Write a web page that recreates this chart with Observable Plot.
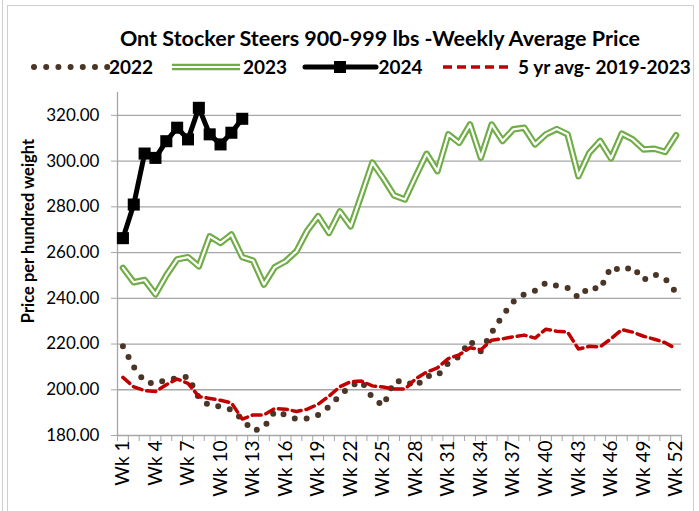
<!DOCTYPE html>
<html><head><meta charset="utf-8">
<script src="https://cdn.jsdelivr.net/npm/d3@7"></script>
<script src="https://cdn.jsdelivr.net/npm/@observablehq/plot@0.6"></script>
<style>
body{margin:0;background:#fff;}
#wrap{position:relative;width:699px;height:511px;overflow:hidden;font-family:Lato,sans-serif;background:#fff;}
#chart{position:absolute;left:0;top:0;}
.abs{position:absolute;white-space:nowrap;z-index:2;}
.leg{font-size:19px;line-height:19px;font-weight:bold;color:#000;top:57px;}
</style></head><body><div id="wrap">
<div id="chart"></div>
<div class="abs" style="left:7px;top:5px;width:685px;height:600px;border:1px solid #cfcfcf;"></div>
<div class="abs" style="left:2px;top:0;width:0;height:511px;border-left:1px solid #cfcfcf;"></div>
<div class="abs" id="title" style="left:380px;top:28px;transform:translateX(-50%);font-size:21.5px;line-height:21.5px;font-weight:bold;"></div>
<div class="abs" id="ytitle" style="left:27.5px;top:231px;transform:translate(-50%,-50%) rotate(-90deg);font-size:16.5px;font-weight:bold;"></div>
<div class="abs" id="legend" style="left:0;top:0;width:699px;height:90px;"></div>
</div>
<script>
const titleText = "Ont Stocker Steers 900-999 lbs -Weekly Average Price";
const yTitleText = "Price per hundred weight";
const seriesNames = ["2022", "2023", "2024", "5 yr avg- 2019-2023"];
const weeks = d3.range(1, 53);
const weekLabels = weeks.map(w => "Wk " + w);
const tickWeeks = [1, 4, 7, 10, 13, 16, 19, 22, 25, 28, 31, 34, 37, 40, 43, 46, 49, 52];
const yTicks = [180, 200, 220, 240, 260, 280, 300, 320];

const v2022 = [219, 210, 203.5, 202.5, 204.4, 205, 205.7, 196.5, 193, 192.8, 191.3, 187, 182, 183.5, 190.5, 189, 187.2, 187.4, 189, 192.6,
  197.4, 201.7, 203.7, 196.5, 193, 203.6, 204, 201.4, 206, 206.1, 211.7, 214.5, 221.4, 216.8, 225, 232.4, 238.5, 241.8, 243.3, 246.8,
  245.5, 244.5, 240.3, 245, 244, 253.8, 252, 253.8, 248, 250.5, 248.5, 242.5];
const v2023 = [253.3, 247, 248, 241.7, 250, 257, 258, 254, 267.1, 264.2, 267.9, 258, 256.5, 246, 253.6, 256.2, 260.6, 269.6, 275.9, 268.6,
  278, 271.5, 285.3, 299.3, 292.5, 285, 283.2, 293.4, 303.2, 295.6, 311.7, 308, 316, 301.5, 316, 308.8, 313.9, 314.6, 307.3, 311.7,
  314, 311.7, 293.4, 303.6, 308.8, 301.2, 312, 309.5, 305.1, 305.4, 304, 311.3];
const v2024 = [266.3, 281, 303.3, 301.4, 308.7, 314.6, 309.5, 323.3, 311.7, 307.3, 312.4, 318.5];
const vAvg = [205.4, 201.3, 199.6, 199.2, 202.2, 204.7, 202.8, 197, 196.2, 195.4, 194.3, 187.2, 189, 189, 191.8, 191.5, 190.5, 191.5, 193.7, 197.2,
  201.3, 203.5, 203.8, 201.7, 201.2, 200.3, 200.3, 204.8, 207.7, 209.6, 213.6, 215.3, 218.4, 217.5, 221.7, 222.3, 223.2, 223.9, 222.6, 226.5,
  225.6, 225.2, 217.8, 219, 218.8, 222.3, 226.3, 225.2, 223.4, 222.1, 220.6, 217.9];

const colors = {c2022: "#4b3527", c2023: "#70ad47", c2024: "#000000", cAvg: "#c00000"};
const rows = vals => vals.map((v, i) => ({week: weeks[i], value: v}));
const grid = "#a6a6a6";

const plot = Plot.plot({
  width: 699, height: 511,
  marginLeft: 117, marginRight: 18, marginTop: 92, marginBottom: 76,
  style: {fontFamily: "Lato, sans-serif", background: "transparent", overflow: "visible"},
  x: {type: "linear", domain: [0.5, 52.5], label: null},
  y: {domain: [180, 330], label: null},
  marks: [
    Plot.ruleY(yTicks, {stroke: grid, strokeWidth: 1.3}),
    Plot.ruleX([0.5], {y1: 180, y2: 330, stroke: grid, strokeWidth: 1.3}),
    Plot.axisY(yTicks, {anchor: "left", label: null, tickSize: 6, tickPadding: 12, tickFormat: d => d.toFixed(2), stroke: grid, fill: "#000", fontSize: 17}),
    Plot.axisX(d3.range(0.5, 53, 1), {anchor: "bottom", label: null, tickSize: 6, tickFormat: () => "", stroke: grid}),
    Plot.axisX(tickWeeks, {anchor: "bottom", label: null, tickSize: 0, tickPadding: 5, tickRotate: -90, tickFormat: w => weekLabels[w - 1], fill: "#000", fontSize: 19}),
    Plot.line(rows(v2022), {x: "week", y: "value", stroke: colors.c2022, strokeWidth: 6, strokeDasharray: "0 12", strokeLinecap: "round"}),
    Plot.line(rows(v2023), {x: "week", y: "value", stroke: colors.c2023, strokeWidth: 6.5}),
    Plot.line(rows(v2023), {x: "week", y: "value", stroke: "#ffffff", strokeWidth: 2.2}),
    Plot.line(rows(v2024), {x: "week", y: "value", stroke: colors.c2024, strokeWidth: 5}),
    Plot.dot(rows(v2024), {x: "week", y: "value", symbol: "square", r: 6.8, fill: colors.c2024}),
    Plot.line(rows(vAvg), {x: "week", y: "value", stroke: colors.cAvg, strokeWidth: 3.5, strokeDasharray: "9 5"})
  ]
});
document.getElementById("chart").appendChild(plot);
document.getElementById("title").textContent = titleText;
document.getElementById("ytitle").textContent = yTitleText;

// legend
const leg = document.getElementById("legend");
const ns = "http://www.w3.org/2000/svg";
const sw = document.createElementNS(ns, "svg");
sw.setAttribute("width", 699); sw.setAttribute("height", 90);
sw.style.position = "absolute"; sw.style.left = "0"; sw.style.top = "0";
function ln(x1, x2, y, attrs) {
  const l = document.createElementNS(ns, "line");
  l.setAttribute("x1", x1); l.setAttribute("x2", x2); l.setAttribute("y1", y); l.setAttribute("y2", y);
  for (const k in attrs) l.setAttribute(k, attrs[k]);
  sw.appendChild(l);
}
const ly = 67;
ln(34, 108, ly, {stroke: colors.c2022, "stroke-width": 6, "stroke-dasharray": "0 12.2", "stroke-linecap": "round"});
ln(172, 240, ly, {stroke: colors.c2023, "stroke-width": 6.5});
ln(172, 240, ly, {stroke: "#fff", "stroke-width": 2.2});
ln(305, 376, ly, {stroke: colors.c2024, "stroke-width": 5, "stroke-linecap": "round"});
const sq = document.createElementNS(ns, "rect");
sq.setAttribute("x", 334); sq.setAttribute("y", ly - 6); sq.setAttribute("width", 12); sq.setAttribute("height", 12); sq.setAttribute("fill", "#000");
sw.appendChild(sq);
ln(443, 513, ly, {stroke: colors.cAvg, "stroke-width": 3.5, "stroke-dasharray": "9 5"});
leg.appendChild(sw);
const textPos = [109, 243, 378.5, 518];
seriesNames.forEach((s, i) => {
  const d = document.createElement("div");
  d.className = "abs leg"; d.style.left = textPos[i] + "px"; d.textContent = s;
  leg.appendChild(d);
});
</script>
</body></html>
